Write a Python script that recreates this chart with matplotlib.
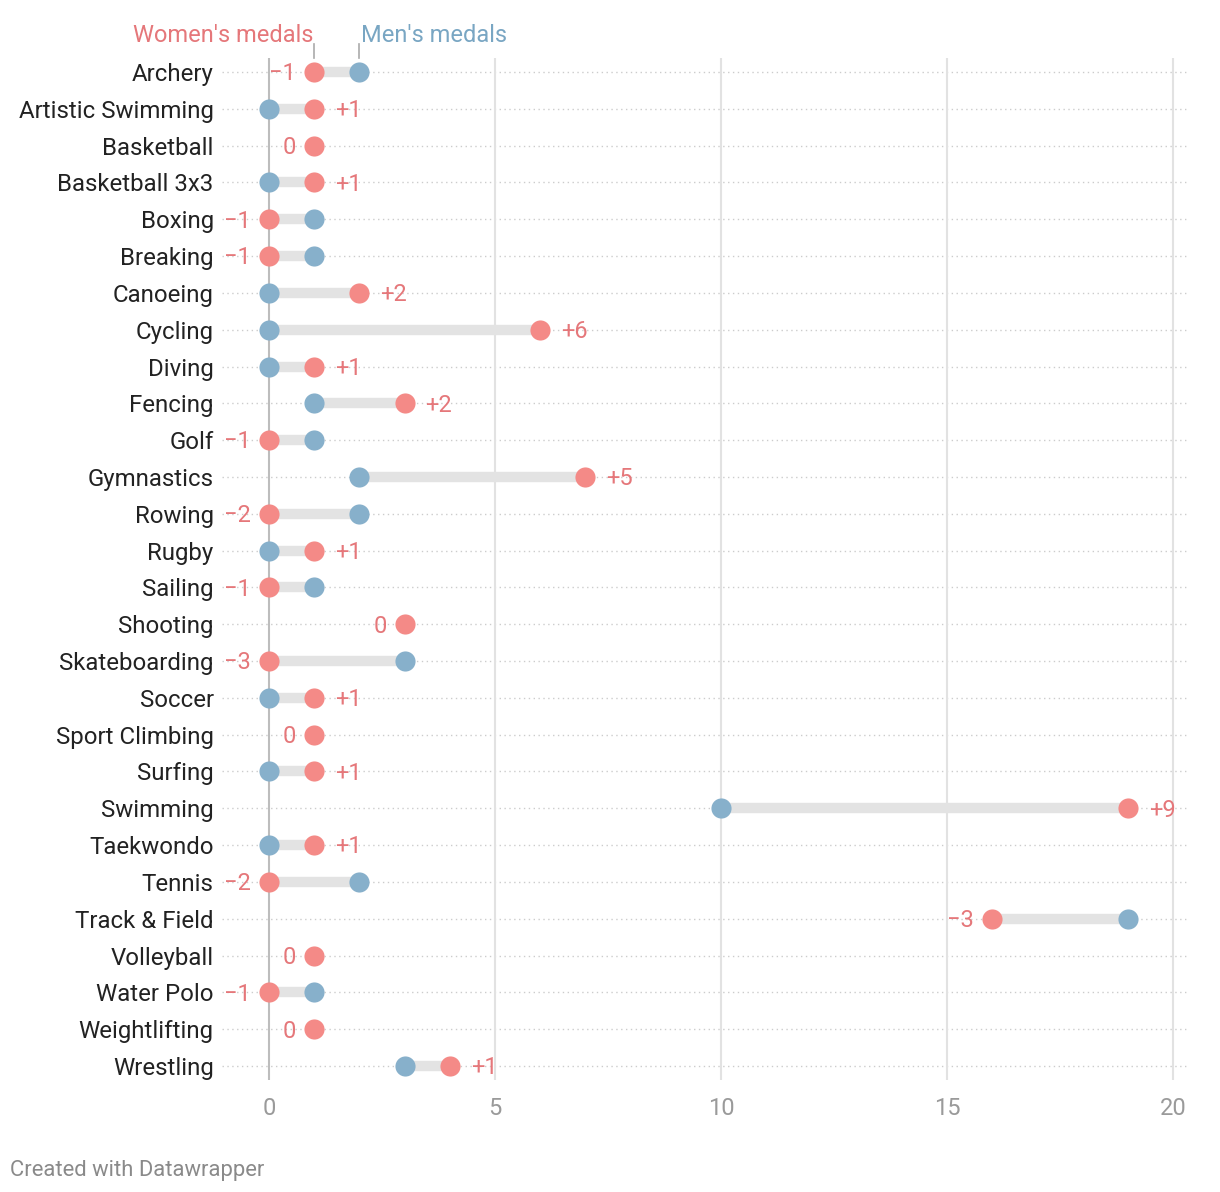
import matplotlib
matplotlib.use('Agg')
import matplotlib.pyplot as plt

plt.rcParams['font.family'] = ['Roboto', 'DejaVu Sans']

# data
sports = ['Archery', 'Artistic Swimming', 'Basketball', 'Basketball 3x3', 'Boxing',
          'Breaking', 'Canoeing', 'Cycling', 'Diving', 'Fencing', 'Golf', 'Gymnastics',
          'Rowing', 'Rugby', 'Sailing', 'Shooting', 'Skateboarding', 'Soccer',
          'Sport Climbing', 'Surfing', 'Swimming', 'Taekwondo', 'Tennis',
          'Track & Field', 'Volleyball', 'Water Polo', 'Weightlifting', 'Wrestling']
women = [1, 1, 1, 1, 0, 0, 2, 6, 1, 3, 0, 7, 0, 1, 0, 3, 0, 1, 1, 1, 19, 1, 0, 16, 1, 0, 1, 4]
men = [2, 0, 1, 0, 1, 1, 0, 0, 0, 1, 1, 2, 2, 0, 1, 3, 3, 0, 1, 0, 10, 0, 2, 19, 1, 1, 1, 3]
xticks = [0, 5, 10, 15, 20]

W_DOT = '#f48a87'
M_DOT = '#87b0cb'
W_TXT = '#e5777a'
M_TXT = '#79a6c3'

fig = plt.figure(figsize=(12.2, 11.92), dpi=100)
n = len(sports)
top_px, bot_px = 58, 1080
ax = fig.add_axes([222 / 1220, 1 - bot_px / 1192, 966 / 1220, (bot_px - top_px) / 1192])
ax.set_xlim(-1.04, 20.33)
ax.set_ylim(n - 1 + 0.38, -0.38)

for x in xticks:
    ax.axvline(x, color='#bdbdbd' if x == 0 else '#e2e2e2', lw=1.5, zorder=1)

for i, (s, w, m) in enumerate(zip(sports, women, men)):
    ax.axhline(i, color='#cccccc', lw=1, ls=(0, (1, 2.5)), zorder=0)
    ax.plot([w, m], [i, i], color='#e3e3e3', lw=7.5, solid_capstyle='butt', zorder=2)
    if w != m:
        ax.plot(m, i, 'o', ms=14.5, color=M_DOT, mec='none', zorder=3)
    ax.plot(w, i, 'o', ms=14.5, color=W_DOT, mec='none', zorder=4)
    d = w - m
    if d > 0:
        ax.annotate(f'+{d}', (w, i), xytext=(15, 0.5), textcoords='offset points',
                    ha='left', va='center_baseline', color=W_TXT, fontsize=17)
    else:
        lab = '0' if d == 0 else f'\u2212{-d}'
        ax.annotate(lab, (w, i), xytext=(-13, 0.5), textcoords='offset points',
                    ha='right', va='center_baseline', color=W_TXT, fontsize=17)

ax.set_yticks(range(n))
ax.set_yticklabels(sports, fontsize=17.3, color='#222222', va='center_baseline')
ax.set_xticks(xticks)
ax.set_xticklabels([str(x) for x in xticks], fontsize=17, color='#9a9a9a')
ax.tick_params(axis='y', length=0, pad=6)
ax.tick_params(axis='x', length=0, pad=12)
for sp in ax.spines.values():
    sp.set_visible(False)

# header labels with little ticks above the Archery row
ax.plot([1, 1], [-0.75, -0.38], color='#aaaaaa', lw=1.2, clip_on=False)
ax.plot([2, 2], [-0.75, -0.38], color='#aaaaaa', lw=1.2, clip_on=False)
ax.text(0.98, -1.05, "Women's medals", ha='right', va='center_baseline', color=W_TXT, fontsize=17)
ax.text(2.03, -1.05, "Men's medals", ha='left', va='center_baseline', color=M_TXT, fontsize=17)

fig.text(10 / 1220, 1 - 1168 / 1192, 'Created with Datawrapper', ha='left', va='center_baseline',
         color='#8a8a8a', fontsize=15.8)

fig.savefig('out.png', dpi=100)
